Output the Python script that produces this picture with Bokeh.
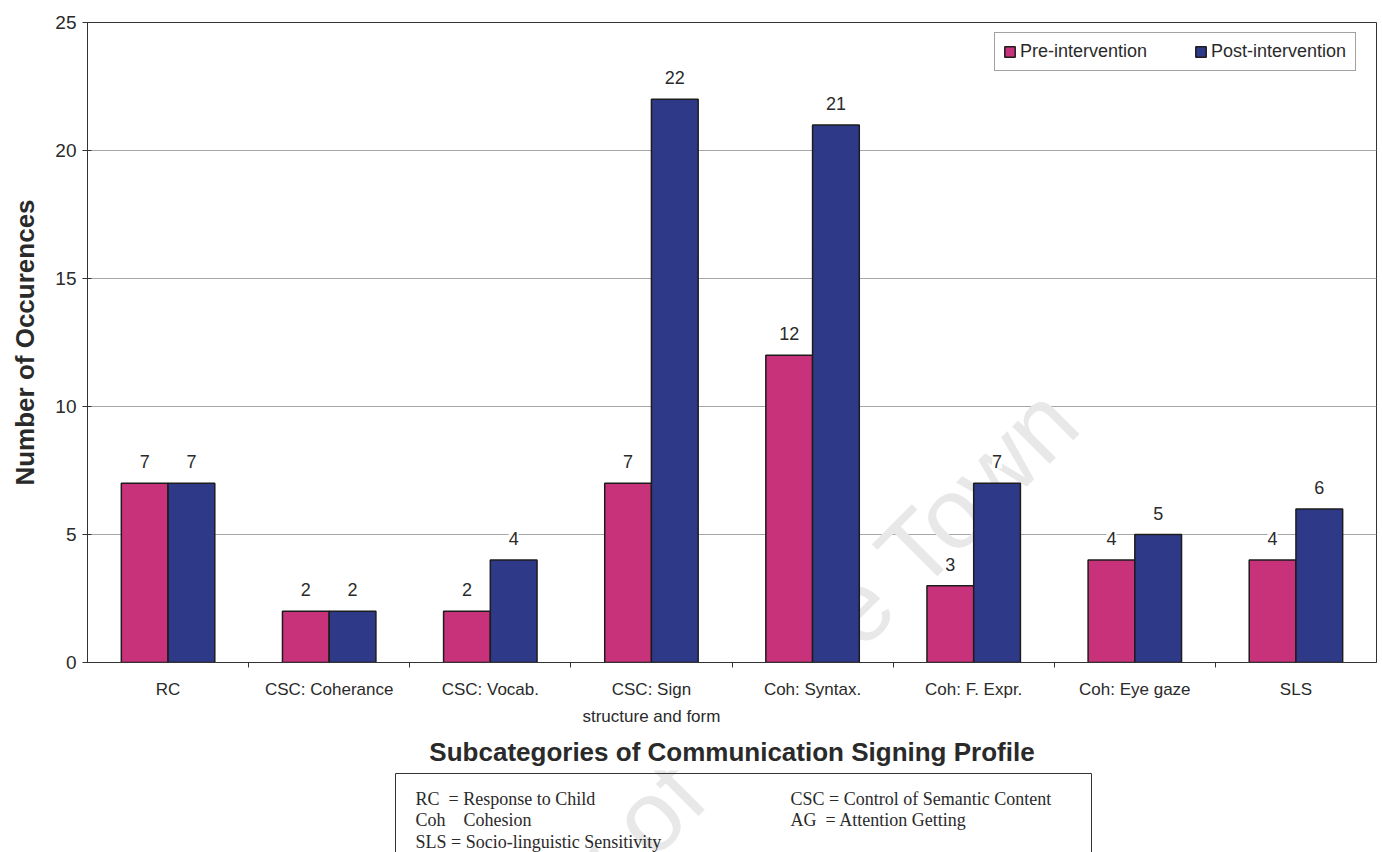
import numpy as np
from bokeh.plotting import figure
from bokeh.layouts import column
from bokeh.core.properties import value
from bokeh.models import (ColumnDataSource, LabelSet, Label, Range1d, FixedTicker,
                          CustomJSTickFormatter)
from bokeh.embed import file_html
from bokeh.resources import INLINE

# ---- data -------------------------------------------------------------
categories = ["RC", "CSC: Coherance", "CSC: Vocab.", "CSC: Sign\nstructure and form",
              "Coh: Syntax.", "Coh: F. Expr.", "Coh: Eye gaze", "SLS"]
pre_intervention = [7, 2, 2, 7, 12, 3, 4, 4]
post_intervention = [7, 2, 4, 22, 21, 7, 5, 6]
y_ticks = [0, 5, 10, 15, 20, 25]

NBSP = "\u00a0"
key_left = ["RC" + NBSP + " = Response to Child",
            "Coh" + NBSP * 3 + " Cohesion",
            "SLS = Socio-linguistic Sensitivity"]
key_right = ["CSC = Control of Semantic Content",
             "AG" + NBSP + " = Attention Getting"]

# ---- geometry ---------------------------------------------------------
W = 1382
H1, H2 = 770, 82          # chart panel and key panel heights
LEFT, RIGHT, TOP, BOTTOM = 87, 6, 22, 106
FRAME_W = W - LEFT - RIGHT
FRAME_H = H1 - TOP - BOTTOM
Y_MAX = 25
N = len(categories)


def to_x(px):
    return (px - LEFT) / FRAME_W * N


def to_y(py):
    return (H1 - BOTTOM - py) / FRAME_H * Y_MAX


PINK = "#C8327A"
BLUE = "#2E3A88"
EDGE = "#1c1c1c"
INK = "#2a2a2a"
SANS = "Liberation Sans"
SERIF = "Liberation Serif"
MARK = "#e8e8e8"

# watermark baseline end point (page pixels) and angle
WM_X, WM_Y, WM_ANGLE = 1060, 404, 45

centers = np.arange(N) + 0.5
bar_w = 0.29

src = ColumnDataSource(dict(
    x_pre=centers - bar_w / 2,
    x_post=centers + bar_w / 2,
    pre=pre_intervention,
    post=post_intervention,
    pre_txt=[str(v) for v in pre_intervention],
    post_txt=[str(v) for v in post_intervention],
))

p = figure(width=W, height=H1, output_backend="svg", toolbar_location=None,
           x_range=Range1d(0, N), y_range=Range1d(0, Y_MAX),
           min_border_left=LEFT, min_border_right=RIGHT,
           min_border_top=TOP, min_border_bottom=BOTTOM)
p.background_fill_color = "white"
p.border_fill_color = "white"
p.outline_line_color = "#333333"
p.outline_line_width = 1

p.add_layout(Label(x=to_x(WM_X), y=to_y(WM_Y), text="University of Cape Town",
                   angle=WM_ANGLE, angle_units="deg", text_align="right",
                   text_baseline="alphabetic", text_font=SANS,
                   text_font_size="100px", text_color=MARK, level="underlay"))

p.vbar(x="x_pre", top="pre", width=bar_w, source=src, fill_color=PINK,
       line_color=EDGE, line_width=1.5, legend_label="Pre-intervention")
p.vbar(x="x_post", top="post", width=bar_w, source=src, fill_color=BLUE,
       line_color=EDGE, line_width=1.5, legend_label="Post-intervention")

for xcol, ycol, tcol in (("x_pre", "pre", "pre_txt"), ("x_post", "post", "post_txt")):
    p.add_layout(LabelSet(x=xcol, y=ycol, text=tcol, source=src, y_offset=15,
                          text_align="center", text_baseline="alphabetic",
                          text_font=value(SANS), text_font_size=value("18px"),
                          text_color=INK, background_fill_color="white"))

# grid
p.xgrid.grid_line_color = None
p.ygrid.grid_line_color = "#a6a6a6"
p.ygrid.grid_line_width = 1

# y axis
p.yaxis.ticker = FixedTicker(ticks=y_ticks)
p.yaxis.axis_label = "Number of Occurences"
p.yaxis.axis_label_text_font = SANS
p.yaxis.axis_label_text_font_style = "bold"
p.yaxis.axis_label_text_font_size = "26px"
p.yaxis.axis_label_text_color = INK
p.yaxis.axis_label_standoff = 12
p.yaxis.major_label_text_font = SANS
p.yaxis.major_label_text_font_size = "19px"
p.yaxis.major_label_text_color = INK
p.yaxis.major_label_standoff = 6
p.yaxis.major_tick_in = 4
p.yaxis.major_tick_out = 5
p.yaxis.minor_tick_line_color = None
p.yaxis.axis_line_color = "#333333"
p.yaxis.major_tick_line_color = "#333333"

# x axis: labels at group centres, tick marks at group boundaries
p.xaxis.ticker = FixedTicker(ticks=list(centers), minor_ticks=list(range(1, N)))
p.xaxis.formatter = CustomJSTickFormatter(
    args=dict(labels=categories),
    code="const i = Math.floor(tick); return (i >= 0 && i < labels.length) ? labels[i] : '';")
p.xaxis.major_tick_in = 0
p.xaxis.major_tick_out = 0
p.xaxis.minor_tick_in = 0
p.xaxis.minor_tick_out = 5
p.xaxis.minor_tick_line_color = "#333333"
p.xaxis.axis_line_color = "#333333"
p.xaxis.major_label_text_font = SANS
p.xaxis.major_label_text_font_size = "17px"
p.xaxis.major_label_text_color = INK
p.xaxis.major_label_text_line_height = 1.45
p.xaxis.major_label_standoff = 12
p.xaxis.axis_label = "Subcategories of Communication Signing Profile"
p.xaxis.axis_label_text_font = SANS
p.xaxis.axis_label_text_font_style = "bold"
p.xaxis.axis_label_text_font_size = "26px"
p.xaxis.axis_label_text_color = INK
p.xaxis.axis_label_standoff = 8

# legend
lg = p.legend[0]
lg.orientation = "horizontal"
lg.location = (907, 591)
lg.margin = 0
lg.padding = 8
lg.spacing = 38
lg.glyph_width = 13
lg.glyph_height = 13
lg.label_standoff = 4
lg.label_width = 136
lg.label_text_font = SANS
lg.label_text_font_size = "18px"
lg.label_text_color = INK
lg.border_line_color = "#444444"
lg.border_line_width = 1
lg.background_fill_color = "white"

# ---- abbreviation key panel (page pixel coordinates, y downwards) ------
k = figure(width=W, height=H2, output_backend="svg", toolbar_location=None,
           x_range=Range1d(LEFT, W - RIGHT), y_range=Range1d(H2, 0),
           x_axis_type=None, y_axis_type=None,
           min_border_left=LEFT, min_border_right=RIGHT,
           min_border_top=0, min_border_bottom=0)
k.outline_line_color = None
k.grid.visible = False
k.background_fill_color = "white"
k.border_fill_color = "white"

k.add_layout(Label(x=WM_X, y=WM_Y - H1, text="University of Cape Town",
                   angle=WM_ANGLE, angle_units="deg", text_align="right",
                   text_baseline="alphabetic", text_font=SANS,
                   text_font_size="100px", text_color=MARK, level="underlay"))

k.quad(left=[395], right=[1091], top=[3], bottom=[H2 + 20],
       fill_color=None, line_color="#333333", line_width=1)

for i, line in enumerate(key_left):
    k.add_layout(Label(x=415, y=28 + 21.5 * i, text=line, text_font=SERIF,
                       text_font_size="18px", text_color=INK,
                       text_baseline="alphabetic"))
for i, line in enumerate(key_right):
    k.add_layout(Label(x=790, y=28 + 21.5 * i, text=line, text_font=SERIF,
                       text_font_size="18px", text_color=INK,
                       text_baseline="alphabetic"))

layout = column(p, k, spacing=0)
open("out.html", "w").write(file_html(layout, INLINE))
